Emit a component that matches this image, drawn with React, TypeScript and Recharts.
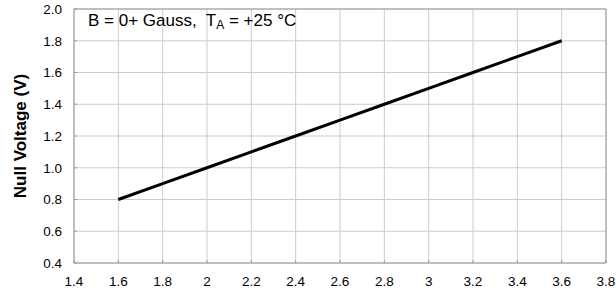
import { LineChart, Line, XAxis, YAxis, CartesianGrid, ReferenceLine, Label } from 'recharts';

const supplyVoltage = [1.6, 1.8, 2.0, 2.2, 2.4, 2.6, 2.8, 3.0, 3.2, 3.4, 3.6];
const nullVoltage = [0.8, 0.9, 1.0, 1.1, 1.2, 1.3, 1.4, 1.5, 1.6, 1.7, 1.8];
const xTicks = [1.4, 1.6, 1.8, 2.0, 2.2, 2.4, 2.6, 2.8, 3.0, 3.2, 3.4, 3.6, 3.8];
const yTicks = [0.4, 0.6, 0.8, 1.0, 1.2, 1.4, 1.6, 1.8, 2.0];

const data = supplyVoltage.map((v, i) => ({ v, nul: nullVoltage[i] }));

const FONT = 'Liberation Sans, Arial, sans-serif';
const tickStyle = { fontSize: 13.5, fill: '#000', fontFamily: FONT };

export default function App() {
  return (
    <div style={{ position: 'absolute', left: 0, top: 0, width: 616, height: 292, background: '#fff' }}>
      <LineChart width={616} height={292} data={data} margin={{ top: 9, right: 10, bottom: 8, left: 0 }}>
        <CartesianGrid stroke="#cccccc" strokeWidth={1} />
        <XAxis
          type="number"
          dataKey="v"
          domain={[1.4, 3.8]}
          ticks={xTicks}
          tickFormatter={(t: number) => String(Number(t.toFixed(1)))}
          tick={tickStyle}
          tickSize={-3}
          tickMargin={16}
          height={21}
          stroke="#999"
          interval={0}
        />
        <YAxis
          type="number"
          domain={[0.4, 2.0]}
          ticks={yTicks}
          tickFormatter={(t: number) => t.toFixed(1)}
          tick={tickStyle}
          tickSize={-3}
          tickMargin={15}
          width={74}
          stroke="#999"
          interval={0}
        >
          <Label
            value="Null Voltage (V)"
            angle={-90}
            position="insideLeft"
            offset={20}
            style={{ fontSize: 17, fontWeight: 'bold', fill: '#000', fontFamily: FONT, textAnchor: 'middle' }}
          />
        </YAxis>
        <ReferenceLine y={2.0} stroke="#999" />
        <ReferenceLine x={3.8} stroke="#999" />
        <Line
          type="linear"
          dataKey="nul"
          stroke="#000"
          strokeWidth={3}
          dot={false}
          isAnimationActive={false}
        />
      </LineChart>
      <div
        style={{
          position: 'absolute',
          left: 88,
          top: 13,
          fontFamily: FONT,
          fontSize: 17,
          color: '#000',
          whiteSpace: 'pre',
          lineHeight: '16px',
        }}
      >
        B = 0+ Gauss,  T<sub style={{ fontSize: 12, verticalAlign: '-3px', lineHeight: 0 }}>A</sub> = +25 °C
      </div>
    </div>
  );
}
